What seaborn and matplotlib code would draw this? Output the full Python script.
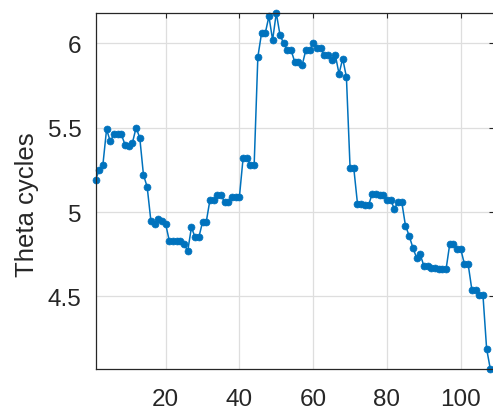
import numpy as np
import pandas as pd
import matplotlib
matplotlib.use("Agg")
import matplotlib.pyplot as plt
import seaborn as sns

# ---- data ----
trial = list(range(1, 109))
theta = [
    5.19, 5.25, 5.28, 5.49, 5.42, 5.46, 5.46, 5.46, 5.40, 5.39,
    5.41, 5.50, 5.44, 5.22, 5.15, 4.95, 4.93, 4.96, 4.95, 4.93,
    4.83, 4.83, 4.83, 4.83, 4.81, 4.77, 4.91, 4.85, 4.85, 4.94,
    4.94, 5.07, 5.07, 5.10, 5.10, 5.06, 5.06, 5.09, 5.09, 5.09,
    5.32, 5.32, 5.28, 5.28, 5.92, 6.06, 6.06, 6.16, 6.02, 6.18,
    6.05, 6.00, 5.96, 5.96, 5.89, 5.89, 5.87, 5.96, 5.96, 6.00,
    5.97, 5.97, 5.93, 5.93, 5.90, 5.93, 5.82, 5.91, 5.80, 5.26,
    5.26, 5.05, 5.05, 5.04, 5.04, 5.11, 5.11, 5.10, 5.10, 5.07,
    5.07, 5.02, 5.06, 5.06, 4.92, 4.86, 4.79, 4.73, 4.75, 4.68,
    4.68, 4.67, 4.67, 4.66, 4.66, 4.66, 4.81, 4.81, 4.78, 4.78,
    4.69, 4.69, 4.54, 4.54, 4.51, 4.51, 4.19, 4.07,
]
xticks = [20, 40, 60, 80, 100]
yticks = [4.5, 5, 5.5, 6]
ytick_labels = ["4.5", "5", "5.5", "6"]
ylabel = "Theta cycles"

sns.set_theme(style="white")
plt.rcParams["font.family"] = ["Liberation Sans", "DejaVu Sans"]

TXT = "#262626"
fig = plt.figure(figsize=(4.93, 4.10), dpi=100)
ax = fig.add_axes([95.5 / 493, 40 / 410, (494 - 95.5) / 493, 356 / 410])

df = pd.DataFrame({"trial": trial, "theta": theta})
sns.lineplot(data=df, x="trial", y="theta", ax=ax, color="#0072BD",
             marker="o", markersize=5, markeredgecolor="#0072BD",
             markeredgewidth=0.5, linewidth=1.1, clip_on=False)

ax.set_xlim(1, 109)
ax.set_ylim(min(theta), max(theta))
ax.set_xticks(xticks)
ax.set_xticklabels([str(t) for t in xticks])
ax.set_yticks(yticks)
ax.set_yticklabels(ytick_labels)

ax.grid(True, color="#dedede", linewidth=0.9)
ax.set_axisbelow(True)
ax.tick_params(axis="both", direction="in", length=3.5, width=0.8,
               top=True, right=True, labelsize=17.5, colors=TXT)
ax.tick_params(axis="x", pad=14)
ax.tick_params(axis="y", pad=10)
for s in ax.spines.values():
    s.set_color(TXT)
    s.set_linewidth(0.9)

ax.set_xlabel("")
ax.set_ylabel(ylabel, fontsize=18.5, color=TXT)
ax.yaxis.set_label_coords((39 - 95.5) / 398.5, 0.463)

fig.savefig("out.png", dpi=100)
